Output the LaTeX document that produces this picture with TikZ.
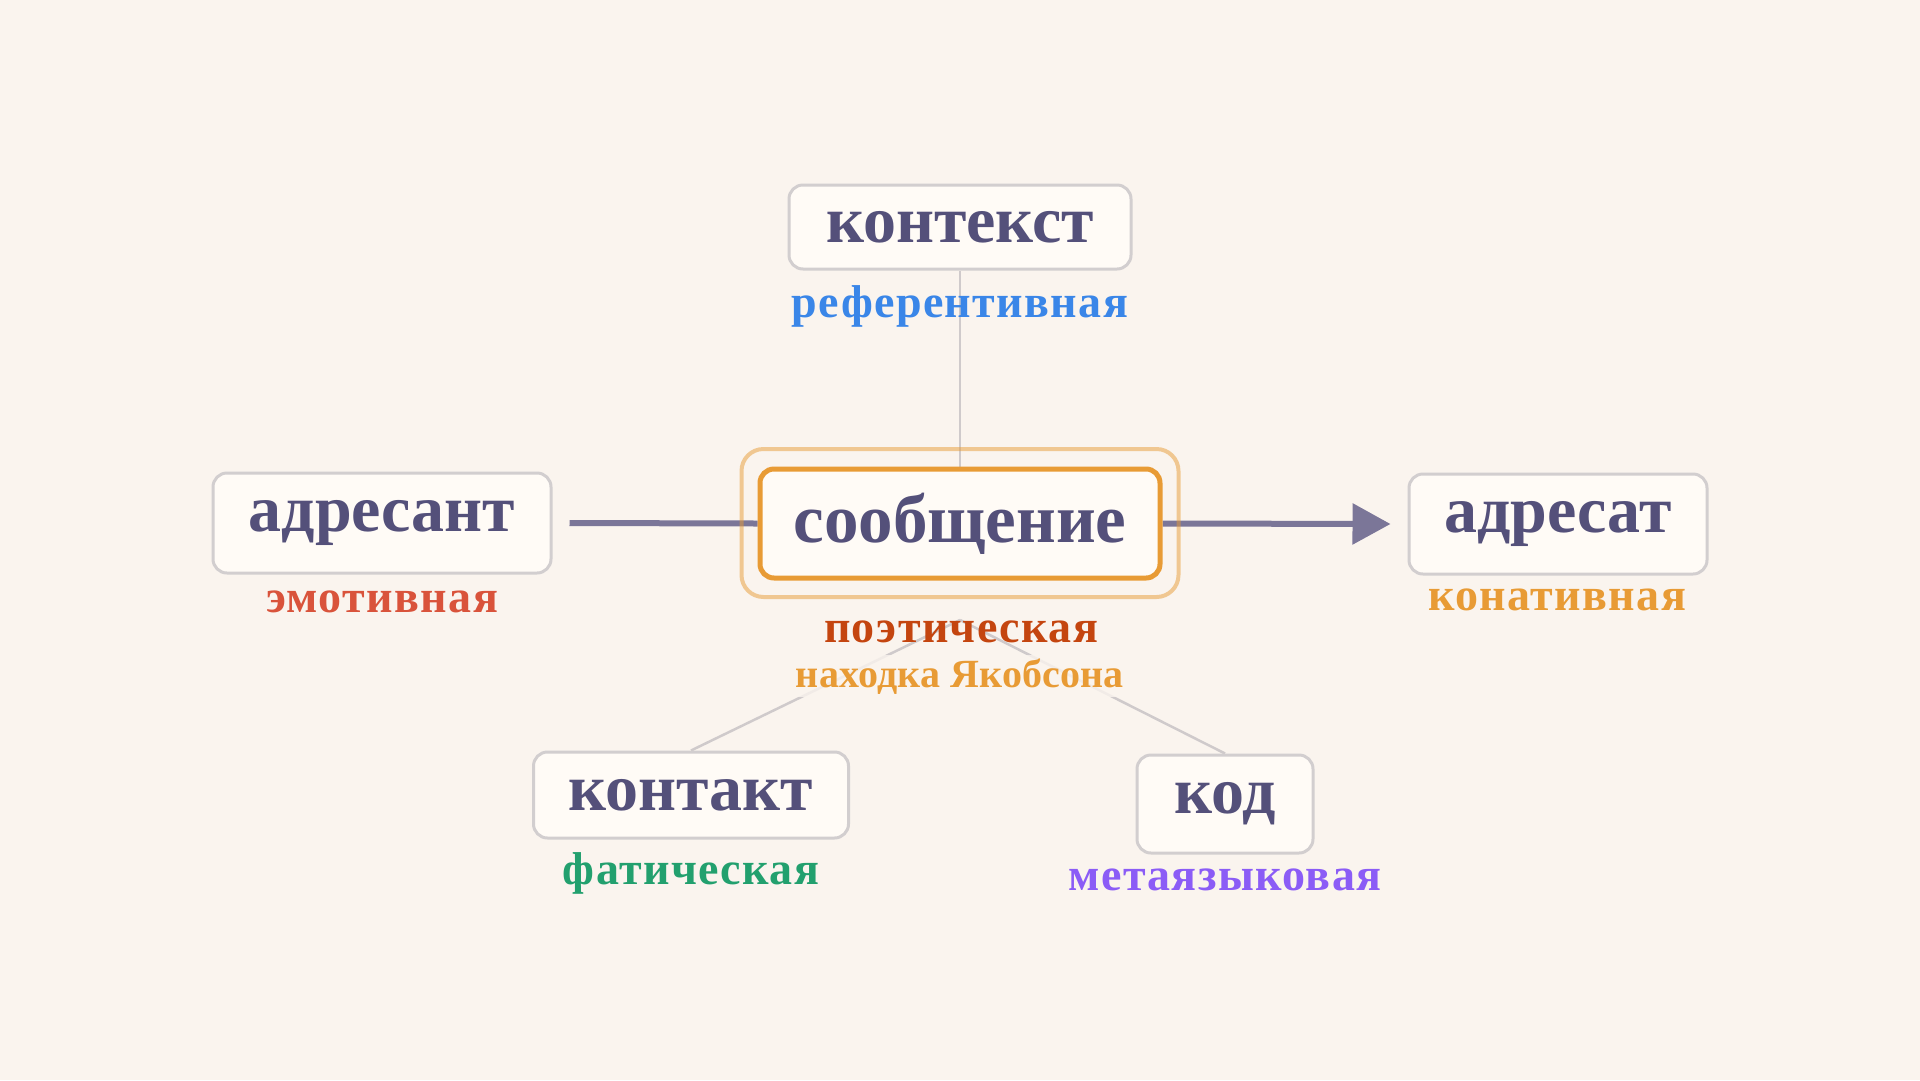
\documentclass[tikz,border=0pt]{standalone}
\usepackage{fontspec}
\setmainfont{Liberation Serif}
\newfontfamily\lblfont{Liberation Serif}[LetterSpace=3]
\newfontfamily\notefont{Liberation Serif}[LetterSpace=0.5]
\usetikzlibrary{arrows.meta}
\definecolor{bgc}{HTML}{FAF4EE}
\definecolor{boxfill}{HTML}{FFFBF6}
\definecolor{boxdraw}{HTML}{D2CECF}
\definecolor{maintext}{HTML}{54507A}
\definecolor{msgorange}{HTML}{E89B35}
\definecolor{flowc}{HTML}{7B7698}
\definecolor{connc}{HTML}{CFCACB}
\definecolor{cref}{HTML}{3A86E8}
\definecolor{cemo}{HTML}{D9533B}
\definecolor{ccon}{HTML}{E89B35}
\definecolor{cpoe}{HTML}{C4450F}
\definecolor{cfat}{HTML}{22A06E}
\definecolor{cmeta}{HTML}{8B5CF6}
\pgfdeclarelayer{bg}
\pgfsetlayers{bg,main}
\tikzset{
  box/.style={draw=boxdraw, line width=3pt, fill=boxfill, rounded corners=14pt,
    inner sep=0pt, text=maintext, font=\bfseries\fontsize{66}{70}\selectfont},
  lbl/.style={inner sep=0pt, anchor=base, font=\lblfont\bfseries\fontsize{46}{50}\selectfont},
  flow/.style={draw=flowc, line width=6pt},
  conn/.style={draw=connc, line width=2.5pt},
}
\begin{document}
\begin{tikzpicture}[x=1pt,y=-1pt]
\useasboundingbox (0,0) rectangle (1920,1080);
% nodes
\node[box, minimum width=342pt, minimum height=84pt] (ctx) at (960,227) {контекст};
\node[box, minimum width=338pt, minimum height=100pt] (adr) at (382,523) {адресант};
\node[box, minimum width=298pt, minimum height=100pt] (adt) at (1558,524) {адресат};
\node[box, minimum width=315pt, minimum height=86pt] (cnt) at (691,795) {контакт};
\node[box, minimum width=176pt, minimum height=98pt] (kod) at (1225,804) {код};
\node[draw=msgorange, draw opacity=0.5, line width=4pt, rounded corners=22pt,
  minimum width=437pt, minimum height=148pt, inner sep=0pt] (halo) at (960,523) {};
\node[box, draw=msgorange, line width=5pt, minimum width=400pt, minimum height=109pt,
  font=\bfseries\fontsize{69}{72}\selectfont] (msg) at (960,523.5) {сообщение};
\coordinate (hub) at (960,620);
% labels
\node[lbl, text=cref] (lref) at (960,317) {референтивная};
\node[lbl, text=cemo] (lemo) at (382,612) {эмотивная};
\node[lbl, text=ccon] (lcon) at (1557,610) {конативная};
\node[lbl, text=cpoe] (lpoe) at (961,642) {поэтическая};
\node[lbl, text=ccon, font=\notefont\bfseries\fontsize{40}{44}\selectfont,
  fill=bgc, fill opacity=0.8, text opacity=1, inner sep=3pt] (ljak) at (960,687) {находка Якобсона};
\node[lbl, text=cfat] (lfat) at (691,884) {фатическая};
\node[lbl, text=cmeta] (lmeta) at (1225,890) {метаязыковая};
% connectors
\begin{pgfonlayer}{bg}
\fill[bgc] (0,0) rectangle (1920,1080);
\draw[conn] (ctx.south) -- (msg.north);
\draw[conn] (hub) -- (cnt.north);
\draw[conn] (hub) -- (kod.north);
\draw[flow] ([xshift=17pt]adr.east) -- (msg.west);
\draw[flow, -{Triangle[length=38pt,width=40pt]}] (msg.east) -- ([xshift=-17pt]adt.west);
\end{pgfonlayer}
\end{tikzpicture}
\end{document}
